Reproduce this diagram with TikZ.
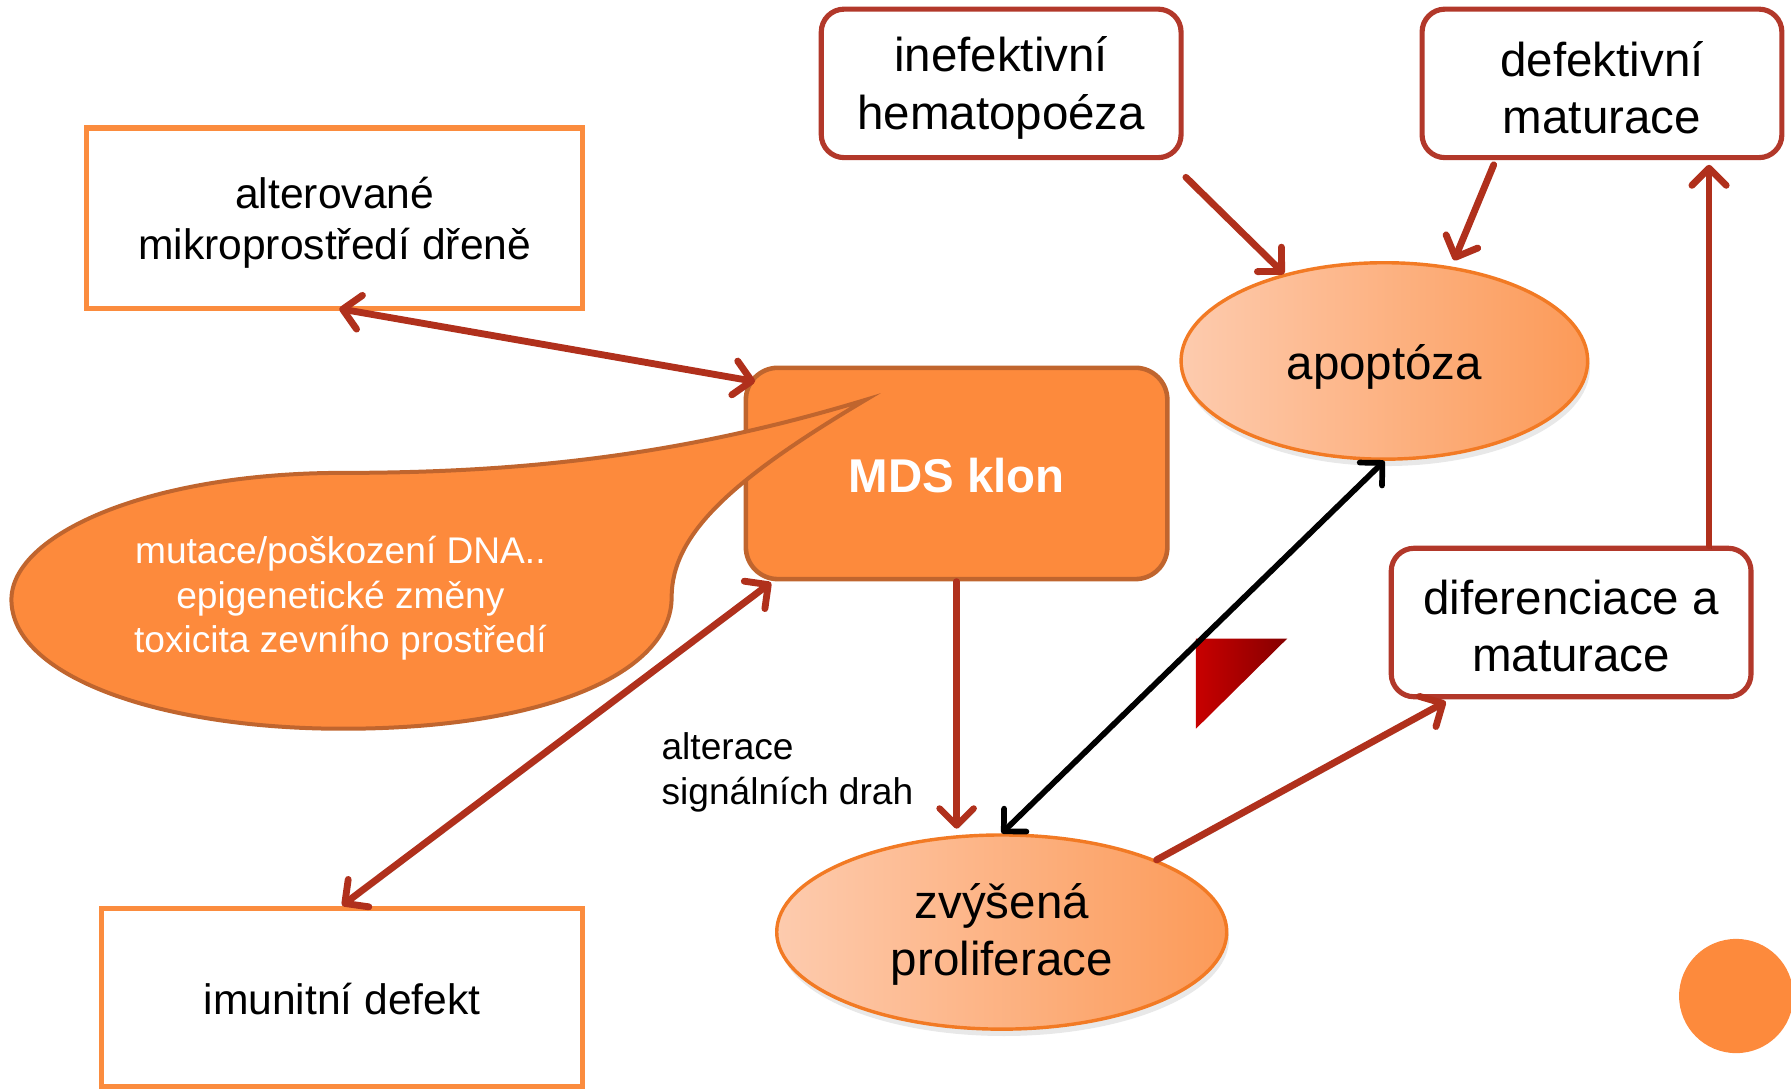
\documentclass[tikz,border=0pt]{standalone}
\usepackage{fontspec}
\setmainfont{Liberation Sans}
\usetikzlibrary{arrows.meta,shapes.geometric,calc,shadows}
\definecolor{orfill}{HTML}{FD8A3C}
\definecolor{orline}{HTML}{C0652E}
\definecolor{boxor}{HTML}{FB8C3E}
\definecolor{boxred}{HTML}{B2382A}
\definecolor{arrred}{HTML}{B0301C}
\definecolor{ellL}{HTML}{FDCBAE}
\definecolor{ellR}{HTML}{FC9A58}
\definecolor{ellline}{HTML}{F27A24}
\definecolor{triL}{HTML}{C80000}
\definecolor{triR}{HTML}{850000}
\begin{document}
\begin{tikzpicture}[x=1pt,y=-1pt,
  bigfont/.style={font=\fontsize{41.6}{50}\selectfont},
  midfont/.style={font=\fontsize{37.3}{44}\selectfont},
  smallfont/.style={font=\fontsize{32.5}{39}\selectfont},
  obox/.style={draw=boxor, line width=4.5pt, fill=white},
  rbox/.style={draw=boxred, line width=4.5pt, rounded corners=20pt, fill=white, minimum width=315pt, minimum height=130pt},
  oell/.style={ellipse, draw=ellline, line width=3pt, left color=ellL, right color=ellR,
     drop shadow={shadow xshift=2pt, shadow yshift=-6pt, opacity=0.18}},
  txt/.style={align=center, inner sep=0pt},
  shad/.style={preaction={draw=black, opacity=0.15, transform canvas={xshift=1.5pt, yshift=-2.5pt}}},
  arr/.style={draw=arrred, line width=6pt, line cap=round, shad, -{Straight Barb[round,length=15pt,width=30pt]}},
  darr/.style={arr, {Straight Barb[round,length=15pt,width=30pt]}-{Straight Barb[round,length=15pt,width=30pt]}},
  barr/.style={draw=black, line width=5pt, line cap=round, {Straight Barb[round,length=14pt,width=28pt]}-{Straight Barb[round,length=14pt,width=28pt]}}
]
\useasboundingbox (0,0) rectangle (1568,953);

% boxes
\node[obox, minimum width=434pt, minimum height=158pt] (alter) at (293,191) {};
\node[txt, midfont] (alter-t) at ($(alter)+(0,4)$) {alterované\\mikroprostředí dřeně};
\node[obox, minimum width=421pt, minimum height=156pt] (imu) at (299.5,873) {};
\node[txt, midfont] (imu-t) at ($(imu)+(0,2)$) {imunitní defekt};
\node[rbox] (ine) at (876.5,73) {};
\node[txt, bigfont] (ine-t) at ($(ine)+(0,4)$) {inefektivní\\hematopoéza};
\node[rbox] (def) at (1402.5,73) {};
\node[txt, bigfont] (def-t) at ($(def)+(0,4)$) {defektivní\\maturace};
\node[rbox] (dif) at (1375.5,545) {};
\node[txt, bigfont] (dif-t) at ($(dif)+(0,3)$) {diferenciace a\\maturace};

% ellipses
\node[oell, minimum width=356pt, minimum height=172pt] (apo) at (1212,316) {};
\node[txt, bigfont] (apo-t) at ($(apo)+(0,5)$) {apoptóza};
\node[oell, minimum width=394pt, minimum height=170pt] (zvy) at (877,816) {};
\node[txt, bigfont] (zvy-t) at ($(zvy)+(0,2)$) {zvýšená\\proliferace};

% MDS clone
\node[draw=orline, fill=orfill, line width=4pt, rounded corners=28pt, minimum width=369pt, minimum height=185pt] (mds) at (837.5,414.5) {};
\node[txt, text=white, font=\fontsize{41.5}{50}\selectfont\bfseries] (mds-t) at ($(mds)+(0,2)$) {MDS klon};

% callout
\draw[draw=orline, fill=orfill, line width=3.5pt]
  (758,350) .. controls (600,398) and (460,414) .. (300,414)
  .. controls (130,414) and (10,468) .. (10,525)
  .. controls (10,592) and (140,638) .. (300,638)
  .. controls (480,638) and (588,588) .. (588,523)
  .. controls (588,468) and (640,420) .. (758,350) -- cycle;
\node[txt, smallfont, text=white] (callt) at (298,524) {mutace/poškození DNA..\\epigenetické změny\\toxicita zevního prostředí};

% label
\node[smallfont, align=left, anchor=west, inner sep=0pt] (lab) at (579,676) {alterace\\signálních drah};

% triangle
\path[left color=triL, right color=triR] (1047,559) -- (1127,559) -- (1047,638) -- cycle;

% bottom-right dot
\begin{scope}
\clip (0,0) rectangle (1568,953);
\fill[orfill] (1520,872) circle (50);
\end{scope}

% connector end points
\coordinate (a1) at ($(alter.south)+(4,-2)$);
\coordinate (a2) at ($(mds.north west)+(10,14)$);
\coordinate (b1) at ($(ine.south east)+(2,15)$);
\coordinate (b2) at ($(def.south west)+(65,4)$);
\coordinate (b3) at ($(apo.center)+(61,-88)$);
\coordinate (c1) at ($(dif.north east)+(-39,0)$);
\coordinate (c2) at ($(def.south east)+(-66,4)$);
\coordinate (d1) at (mds.south);
\coordinate (d2) at ($(mds.south |- zvy.north)+(0,-4)$);
\coordinate (e1) at ($(dif.south west)+(50,2)$);
\coordinate (f1) at ($(mds.south west)+(24,1)$);

% connectors
\draw[darr] (a1) -- (a2);
\draw[arr] (b1) -- (apo.139);
\draw[arr] (b2) -- (b3);
\draw[arr] (c1) -- (c2);
\draw[arr, line width=5.5pt] (d1) -- (d2);
\draw[barr] (apo.south) -- (zvy.north);
\draw[arr] (zvy.25) -- (e1);
\draw[darr] (imu.north) -- (f1);
\end{tikzpicture}
\end{document}
